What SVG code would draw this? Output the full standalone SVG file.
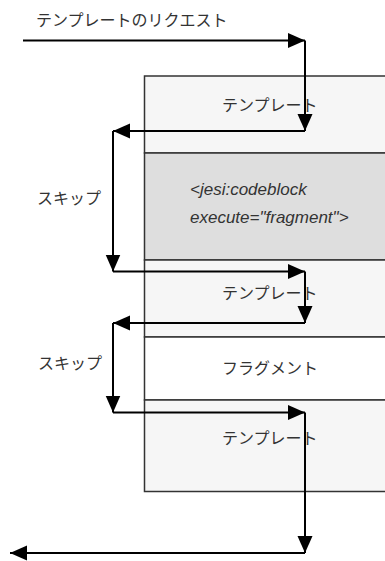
<svg xmlns="http://www.w3.org/2000/svg" width="385" height="561" viewBox="0 0 385 561">
<style>
.sec{stroke:#333;stroke-width:1.5}
.tpl{fill:#f6f6f6}
.code{fill:#dedede}
.frag{fill:#ffffff}
.jp{font-family:"Noto Sans CJK JP","Noto Sans",sans-serif;font-size:16px;fill:#333}
.cd{font-family:"Liberation Sans",Arial,sans-serif;font-size:17px;font-style:italic;fill:#333}
.c{stroke:#000;stroke-width:2;fill:none;marker-end:url(#ah)}
</style>
<defs>
<marker id="ah" markerUnits="userSpaceOnUse" markerWidth="17" markerHeight="16" refX="17" refY="8" orient="auto" viewBox="0 0 17 16">
<path d="M0,0.5 L17,8 L0,15.5 z" fill="#000"/>
</marker>
</defs>
<rect width="385" height="561" fill="#fff"/>
<g id="label-request"><text class="jp" x="36" y="26">テンプレートのリクエスト</text></g>
<g id="template1"><rect class="sec tpl" x="144.5" y="76" width="250" height="77"/><text class="jp" x="222" y="111">テンプレート</text></g>
<g id="codeblock"><rect class="sec code" x="144.5" y="153" width="250" height="107"/><text class="cd" x="190" y="195">&lt;jesi:codeblock</text><text class="cd" x="190" y="223">execute="fragment"&gt;</text></g>
<g id="template2"><rect class="sec tpl" x="144.5" y="260" width="250" height="77"/><text class="jp" x="222" y="299">テンプレート</text></g>
<g id="fragment"><rect class="sec frag" x="144.5" y="337" width="250" height="63"/><text class="jp" x="222" y="374">フラグメント</text></g>
<g id="template3"><rect class="sec tpl" x="144.5" y="400" width="250" height="91.5"/><text class="jp" x="222" y="444">テンプレート</text></g>
<g id="label-skip1"><text class="jp" x="37" y="204">スキップ</text></g>
<g id="label-skip2"><text class="jp" x="38" y="369">スキップ</text></g>
<g id="connectors">
<line class="c" x1="23" y1="40.5" x2="305" y2="40.5"/>
<line class="c" x1="305" y1="40.5" x2="305" y2="131"/>
<line class="c" x1="305" y1="131" x2="113" y2="131"/>
<line class="c" x1="113" y1="131" x2="113" y2="271.5"/>
<line class="c" x1="113" y1="271.5" x2="305" y2="271.5"/>
<line class="c" x1="305" y1="271.5" x2="305" y2="323"/>
<line class="c" x1="305" y1="323" x2="113" y2="323"/>
<line class="c" x1="113" y1="323" x2="113" y2="412.5"/>
<line class="c" x1="113" y1="412.5" x2="305" y2="412.5"/>
<line class="c" x1="305" y1="412.5" x2="305" y2="553"/>
<line class="c" x1="305" y1="553" x2="10" y2="553"/>
</g>
</svg>
